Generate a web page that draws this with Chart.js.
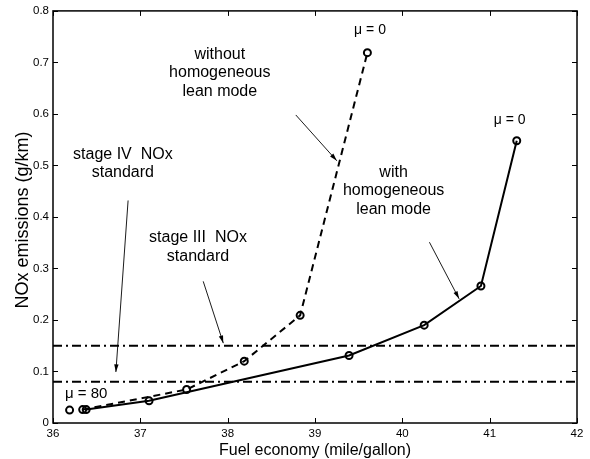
<!DOCTYPE html>
<html><head><meta charset="utf-8">
<script src="https://cdn.jsdelivr.net/npm/chart.js@4/dist/chart.umd.min.js"></script>
<style>html,body{margin:0;padding:0;background:#fff}#wrap{width:590px;height:459px}</style>
</head><body><div id="wrap"><canvas id="c" width="590" height="459"></canvas></div>
<script>
// ---- data ----
const withX = [36.38, 37.10, 39.39, 40.25, 40.90, 41.31];
const withY = [0.026, 0.043, 0.131, 0.190, 0.266, 0.548];
const withoutX = [36.34, 37.53, 38.19, 38.83, 39.60];
const withoutY = [0.026, 0.065, 0.120, 0.209, 0.719];
const extraX = [36.19];
const extraY = [0.025];
const stdRangeX = [36, 42];
const stageIII = 0.15;
const stageIV = 0.08;
const xTicks = [36, 37, 38, 39, 40, 41, 42];
const yTicks = [0, 0.1, 0.2, 0.3, 0.4, 0.5, 0.6, 0.7, 0.8];
const xTitle = 'Fuel economy (mile/gallon)';
const yTitle = 'NOx emissions (g/km)';
// annotation texts anchored in data coordinates
const labels = [
  {text: ["\u03bc = 0"], x: 39.63, y: 0.763, size: 14},
  {text: ["\u03bc = 0"], x: 41.23, y: 0.587, size: 14},
  {text: ["\u03bc = 80"], x: 36.38, y: 0.056, size: 15},
  {text: ["without", "homogeneous", "lean mode"], x: 37.91, y: 0.716, size: 16},
  {text: ["stage IV  NOx", "standard"], x: 36.80, y: 0.522, size: 16},
  {text: ["stage III  NOx", "standard"], x: 37.66, y: 0.359, size: 16},
  {text: ["with", "homogeneous", "lean mode"], x: 39.90, y: 0.487, size: 16}
];
const arrows = [
  {x0: 36.86, y0: 0.432, x1: 36.72, y1: 0.099},
  {x0: 37.72, y0: 0.275, x1: 37.95, y1: 0.155},
  {x0: 38.78, y0: 0.598, x1: 39.25, y1: 0.509},
  {x0: 40.31, y0: 0.351, x1: 40.65, y1: 0.241}
];

const pts = (xs, ys) => xs.map((x, i) => ({x, y: ys[i]}));
const hline = v => stdRangeX.map(x => ({x, y: v}));
const FONT = "'Liberation Sans', Arial, sans-serif";

const decor = {
  id: 'decor',
  afterDatasetsDraw(chart) {
    const {ctx, chartArea: a, scales: {x, y}} = chart;
    ctx.save();
    // frame
    ctx.strokeStyle = '#000'; ctx.lineWidth = 1.5;
    ctx.strokeRect(a.left, a.top, a.right - a.left, a.bottom - a.top);
    // inward ticks
    ctx.lineWidth = 1;
    ctx.beginPath();
    xTicks.forEach(v => {
      const px = Math.round(x.getPixelForValue(v)) + 0.5;
      ctx.moveTo(px, a.bottom); ctx.lineTo(px, a.bottom - 5);
      ctx.moveTo(px, a.top); ctx.lineTo(px, a.top + 5);
    });
    yTicks.forEach(v => {
      const py = Math.round(y.getPixelForValue(v)) + 0.5;
      ctx.moveTo(a.left, py); ctx.lineTo(a.left + 5, py);
      ctx.moveTo(a.right, py); ctx.lineTo(a.right - 5, py);
    });
    ctx.stroke();
    ctx.fillStyle = '#000';
    // axis titles
    ctx.textAlign = 'center'; ctx.textBaseline = 'middle';
    ctx.font = '16px ' + FONT;
    ctx.fillText(xTitle, (a.left + a.right) / 2, a.bottom + 28);
    ctx.save();
    ctx.translate(a.left - 30, (a.top + a.bottom) / 2 + 3);
    ctx.rotate(-Math.PI / 2);
    ctx.font = '18px ' + FONT;
    ctx.fillText(yTitle, 0, 0);
    ctx.restore();
    // labels
    labels.forEach(l => {
      ctx.font = l.size + 'px ' + FONT;
      const px = x.getPixelForValue(l.x), py = y.getPixelForValue(l.y);
      l.text.forEach((t, i) => ctx.fillText(t, px, py + i * 18.5));
    });
    // arrows
    arrows.forEach(ar => {
      const x0 = x.getPixelForValue(ar.x0), y0 = y.getPixelForValue(ar.y0);
      const x1 = x.getPixelForValue(ar.x1), y1 = y.getPixelForValue(ar.y1);
      const ang = Math.atan2(y1 - y0, x1 - x0);
      ctx.beginPath(); ctx.lineWidth = 0.9;
      ctx.moveTo(x0, y0); ctx.lineTo(x1, y1); ctx.stroke();
      const L = 8, W = 0.28;
      ctx.beginPath();
      ctx.moveTo(x1, y1);
      ctx.lineTo(x1 - L * Math.cos(ang - W), y1 - L * Math.sin(ang - W));
      ctx.lineTo(x1 - L * Math.cos(ang + W), y1 - L * Math.sin(ang + W));
      ctx.closePath(); ctx.fill();
    });
    ctx.restore();
  }
};

const marker = {pointRadius: 3.5, pointBorderWidth: 2, pointBorderColor: '#000',
  pointBackgroundColor: 'rgba(0,0,0,0)', pointStyle: 'circle'};

new Chart(document.getElementById('c'), {
  type: 'scatter',
  data: {
    datasets: [
      {label: 'stage III', data: hline(stageIII), showLine: true, borderColor: '#000',
        borderWidth: 2, borderDash: [9, 4, 2, 4], pointRadius: 0},
      {label: 'stage IV', data: hline(stageIV), showLine: true, borderColor: '#000',
        borderWidth: 2, borderDash: [9, 4, 2, 4], pointRadius: 0},
      Object.assign({label: 'without', data: pts(withoutX, withoutY), showLine: true,
        borderColor: '#000', borderWidth: 2, borderDash: [7, 5]}, marker),
      Object.assign({label: 'with', data: pts(withX, withY), showLine: true,
        borderColor: '#000', borderWidth: 2}, marker),
      Object.assign({label: 'extra', data: pts(extraX, extraY), showLine: false}, marker)
    ]
  },
  options: {
    responsive: false, animation: false,
    layout: {padding: {top: 10, right: 13, left: 0, bottom: 0}},
    plugins: {legend: {display: false}, tooltip: {enabled: false}},
    scales: {
      x: {type: 'linear', min: 36, max: 42,
        afterBuildTicks: s => { s.ticks = xTicks.map(v => ({value: v})); },
        afterFit: s => { s.height = 36; },
        grid: {display: false, drawTicks: false}, border: {display: false},
        ticks: {color: '#000', font: {family: FONT, size: 11.5}, padding: 4,
          callback: v => String(v)}
      },
      y: {type: 'linear', min: 0, max: 0.8,
        afterBuildTicks: s => { s.ticks = yTicks.map(v => ({value: v})); },
        afterFit: s => { s.width = 53; },
        grid: {display: false, drawTicks: false}, border: {display: false},
        ticks: {color: '#000', font: {family: FONT, size: 11.5}, padding: 4,
          callback: v => String(Math.round(v * 10) / 10)}
      }
    }
  },
  plugins: [decor]
});
</script></body></html>
